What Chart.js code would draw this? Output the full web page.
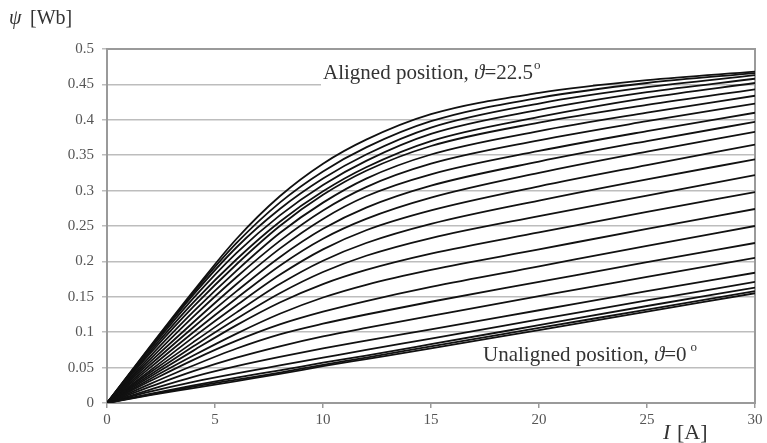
<!DOCTYPE html>
<html>
<head>
<meta charset="utf-8">
<script src="https://cdn.jsdelivr.net/npm/chart.js@4/dist/chart.umd.min.js"></script>
<style>
  html, body { margin: 0; padding: 0; background: #fff; }
  #wrap { width: 767px; height: 443px; position: relative; }
</style>
</head>
<body>
<div id="wrap"><canvas id="fluxChart" width="767" height="443"></canvas></div>
<script>
// === Data: flux linkage psi [Wb] vs current I [A], one curve per rotor position ===
const current = [0, 2, 4, 6, 8, 10, 12, 15, 20, 25, 30];

// unaligned (bottom) ... aligned (top)
const psi01 = [0, 0.011, 0.021, 0.031, 0.041, 0.052, 0.062, 0.077, 0.103, 0.129, 0.155];
const psi02 = [0, 0.012, 0.023, 0.033, 0.043, 0.054, 0.064, 0.080, 0.106, 0.132, 0.158];
const psi03 = [0, 0.013, 0.025, 0.036, 0.046, 0.057, 0.067, 0.083, 0.110, 0.137, 0.163];
const psi04 = [0, 0.016, 0.030, 0.042, 0.053, 0.064, 0.075, 0.091, 0.118, 0.145, 0.171];
const psi05 = [0, 0.019, 0.037, 0.052, 0.065, 0.077, 0.088, 0.104, 0.131, 0.158, 0.184];
const psi06 = [0, 0.023, 0.045, 0.064, 0.080, 0.094, 0.106, 0.123, 0.151, 0.178, 0.205];
const psi07 = [0, 0.027, 0.053, 0.077, 0.097, 0.112, 0.125, 0.143, 0.171, 0.199, 0.226];
const psi08 = [0, 0.031, 0.061, 0.088, 0.111, 0.129, 0.144, 0.164, 0.193, 0.222, 0.250];
const psi09 = [0, 0.034, 0.067, 0.098, 0.126, 0.149, 0.167, 0.188, 0.217, 0.246, 0.274];
const psi10 = [0, 0.037, 0.074, 0.110, 0.142, 0.168, 0.188, 0.211, 0.241, 0.270, 0.298];
const psi11 = [0, 0.040, 0.080, 0.119, 0.155, 0.185, 0.208, 0.233, 0.264, 0.293, 0.322];
const psi12 = [0, 0.043, 0.086, 0.128, 0.168, 0.201, 0.226, 0.253, 0.286, 0.316, 0.344];
const psi13 = [0, 0.046, 0.093, 0.138, 0.181, 0.217, 0.244, 0.272, 0.306, 0.336, 0.365];
const psi14 = [0, 0.050, 0.100, 0.148, 0.194, 0.232, 0.260, 0.290, 0.325, 0.355, 0.383];
const psi15 = [0, 0.054, 0.107, 0.158, 0.206, 0.246, 0.276, 0.307, 0.341, 0.370, 0.397];
const psi16 = [0, 0.058, 0.114, 0.168, 0.218, 0.260, 0.292, 0.323, 0.356, 0.384, 0.410];
const psi17 = [0, 0.062, 0.122, 0.178, 0.229, 0.272, 0.305, 0.338, 0.371, 0.398, 0.423];
const psi18 = [0, 0.066, 0.129, 0.187, 0.240, 0.283, 0.317, 0.351, 0.384, 0.410, 0.434];
const psi19 = [0, 0.070, 0.136, 0.196, 0.250, 0.294, 0.328, 0.363, 0.396, 0.421, 0.443];
const psi20 = [0, 0.073, 0.142, 0.203, 0.256, 0.299, 0.333, 0.370, 0.404, 0.431, 0.452];
const psi21 = [0, 0.076, 0.148, 0.212, 0.265, 0.308, 0.342, 0.380, 0.414, 0.439, 0.458];
const psi22 = [0, 0.078, 0.153, 0.220, 0.274, 0.317, 0.351, 0.389, 0.423, 0.446, 0.463];
const psi23 = [0, 0.079, 0.156, 0.226, 0.283, 0.327, 0.361, 0.398, 0.431, 0.452, 0.466];
const psi24 = [0, 0.080, 0.158, 0.232, 0.292, 0.338, 0.372, 0.408, 0.438, 0.456, 0.468];

const curves = [psi01, psi02, psi03, psi04, psi05, psi06, psi07, psi08, psi09, psi10, psi11, psi12,
                psi13, psi14, psi15, psi16, psi17, psi18, psi19, psi20, psi21, psi22, psi23, psi24];

const xTicks = [0, 5, 10, 15, 20, 25, 30];
const yTicks = [0, 0.05, 0.1, 0.15, 0.2, 0.25, 0.3, 0.35, 0.4, 0.45, 0.5];

const serif = '"Liberation Serif", "DejaVu Serif", serif';

// === Extra text: axis titles, annotations, frame ===
const labelsPlugin = {
  id: 'labels',
  beforeDatasetsDraw(chart) {
    const { ctx, chartArea: a } = chart;
    ctx.save();
    // white boxes behind annotations (hide grid lines only)
    ctx.fillStyle = '#fff';
    ctx.fillRect(321, 56, 272, 30);
    ctx.fillRect(481, 342, 232, 23);
    ctx.strokeStyle = '#9a9a9a';
    ctx.lineWidth = 2;
    ctx.strokeRect(a.left, a.top, a.right - a.left, a.bottom - a.top);
    ctx.restore();
  },
  afterDatasetsDraw(chart) {
    const { ctx } = chart;
    ctx.save();
    ctx.fillStyle = '#333';
    ctx.textBaseline = 'alphabetic';

    // y title
    ctx.font = 'italic 20px ' + serif;
    ctx.fillText('\u03C8', 9, 24);
    ctx.font = '20px ' + serif;
    ctx.fillText('[Wb]', 30, 24);

    // x title
    ctx.font = 'italic 22px ' + serif;
    ctx.fillText('I', 663, 439);
    ctx.font = '22px ' + serif;
    ctx.fillText('[A]', 677, 439);

    // aligned annotation
    const fs = 21;
    ctx.font = fs + 'px ' + serif;
    let x = 323;
    ctx.fillText('Aligned position, ', x, 79);
    x += ctx.measureText('Aligned position, ').width;
    ctx.font = 'italic ' + fs + 'px ' + serif;
    ctx.fillText('\u03D1', x, 79);
    x += ctx.measureText('\u03D1').width;
    ctx.font = fs + 'px ' + serif;
    ctx.fillText('=22.5', x, 79);
    x += ctx.measureText('=22.5').width;
    ctx.font = '13px ' + serif;
    ctx.fillText('o', x + 1, 69);

    // unaligned annotation
    ctx.font = fs + 'px ' + serif;
    x = 483;
    ctx.fillText('Unaligned position, ', x, 361);
    x += ctx.measureText('Unaligned position, ').width;
    ctx.font = 'italic ' + fs + 'px ' + serif;
    ctx.fillText('\u03D1', x, 361);
    x += ctx.measureText('\u03D1').width;
    ctx.font = fs + 'px ' + serif;
    ctx.fillText('=0', x, 361);
    x += ctx.measureText('=0').width;
    ctx.font = '13px ' + serif;
    ctx.fillText('o', x + 4, 351);
    ctx.restore();
  }
};

const ctx = document.getElementById('fluxChart').getContext('2d');
new Chart(ctx, {
  type: 'line',
  data: {
    datasets: curves.map((ys, i) => ({
      label: 'curve ' + (i + 1),
      data: current.map((c, j) => ({ x: c, y: ys[j] })),
      borderColor: '#111',
      borderWidth: 1.8,
      pointRadius: 0,
      fill: false,
      cubicInterpolationMode: 'monotone'
    }))
  },
  options: {
    responsive: false,
    animation: false,
    layout: { padding: { left: 0, top: 49, right: 12, bottom: 0 } },
    plugins: { legend: { display: false }, tooltip: { enabled: false }, title: { display: false } },
    scales: {
      x: {
        type: 'linear',
        min: 0, max: 30,
        afterBuildTicks: s => { s.ticks = xTicks.map(v => ({ value: v })); },
        afterFit: s => { s.height = 40; },
        grid: { drawOnChartArea: false, drawTicks: true, tickLength: 5, color: '#9a9a9a', lineWidth: 1.5 },
        border: { display: false },
        ticks: { color: '#555', font: { family: serif, size: 15 }, padding: 3, maxRotation: 0 }
      },
      y: {
        min: 0, max: 0.5,
        afterBuildTicks: s => { s.ticks = yTicks.map(v => ({ value: v })); },
        afterFit: s => { s.width = 107; },
        grid: { color: '#bdbdbd', lineWidth: 1.5, tickLength: 5, drawTicks: true },
        border: { display: false },
        ticks: { color: '#555', font: { family: serif, size: 15 }, padding: 8, callback: v => String(+v.toFixed(2)) }
      }
    }
  },
  plugins: [labelsPlugin]
});
</script>
</body>
</html>
